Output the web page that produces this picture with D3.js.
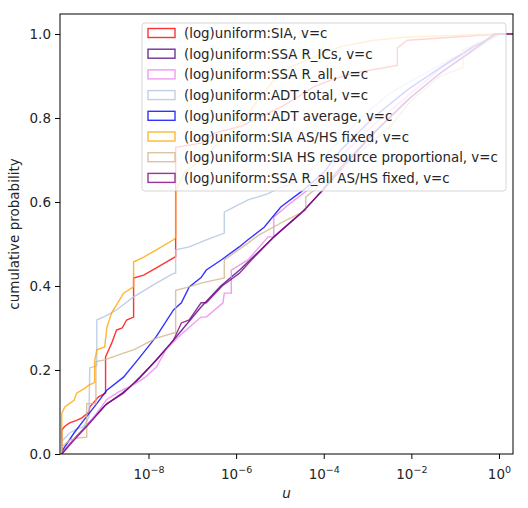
<!DOCTYPE html>
<html>
<head>
<meta charset="utf-8">
<script src="https://cdn.jsdelivr.net/npm/d3@7"></script>
<style>
  body { margin: 0; background: #fff; }
  text { font-family: "DejaVu Sans", sans-serif; }
</style>
</head>
<body>
<div id="chart"></div>
<script>
// series names, colours (legend order = draw order)
var seriesNames = ["(log)uniform:SIA, v=c", "(log)uniform:SSA R_ICs, v=c", "(log)uniform:SSA R_all, v=c",
                   "(log)uniform:ADT total, v=c", "(log)uniform:ADT average, v=c", "(log)uniform:SIA AS/HS fixed, v=c",
                   "(log)uniform:SIA HS resource proportional, v=c", "(log)uniform:SSA R_all AS/HS fixed, v=c"];
var seriesColors = ["red", "indigo", "violet", "lightsteelblue", "blue", "orange", "tan", "purple"];

// cumulative curves: [log10(u), cumulative probability]
var sia = [[-9.98,0],[-9.98,.057],[-9.91,.066],[-9.80,.074],[-9.64,.08],[-9.52,.086],[-9.36,.10],[-9.34,.112],
  [-9.14,.136],[-8.98,.145],[-8.98,.231],[-8.90,.25],[-8.84,.264],[-8.73,.295],[-8.60,.30],[-8.50,.319],[-8.34,.326],
  [-8.34,.419],[-8.11,.426],[-7.82,.443],[-7.43,.467],[-7.38,.47],[-7.38,.73],[-6.80,.74],[-6.50,.764],[-5.89,.78],
  [-5.50,.80],[-4.98,.826],[-4.59,.85],[-4.23,.874],[-3.84,.89],[-3.32,.907],[-2.32,.925],[-2.32,.967],[-2.09,.985],
  [-1.0,.993],[0,1],[0.32,1]];
var ssaRICs = [[-9.98,0],[-9.75,.03],[-9.40,.07],[-9.0,.115],[-8.6,.145],[-8.3,.17],[-7.9,.215],[-7.5,.262],[-7.2,.30],
  [-6.8,.35],[-6.35,.40],[-5.9,.44],[-5.6,.47],[-5.1,.52],[-4.5,.575],[-4.0,.63],[-3.5,.69],[-2.8,.77],[-2.0,.85],
  [-1.3,.91],[-0.6,.96],[-0.1,1],[0.32,1]];
var ssaRall = [[-9.98,0],[-9.70,.035],[-9.34,.075],[-8.95,.13],[-8.68,.148],[-8.34,.165],[-8.11,.18],[-7.82,.207],
  [-7.59,.25],[-7.25,.285],[-7.07,.302],[-6.80,.326],[-6.68,.326],[-6.30,.36],[-6.27,.383],[-6.11,.383],[-6.11,.438],
  [-5.73,.462],[-5.27,.517],[-5.14,.517],[-5.14,.564],[-4.75,.598],[-4.36,.629],[-4.0,.66],[-3.5,.72],[-2.8,.79],
  [-2.0,.86],[-1.3,.92],[-0.6,.965],[-0.1,1],[0.32,1]];
var adtTotal = [[-9.98,0],[-9.98,.03],[-9.80,.05],[-9.64,.06],[-9.48,.065],[-9.36,.088],[-9.34,.205],[-9.18,.21],
  [-9.18,.319],[-8.95,.33],[-8.73,.343],[-8.34,.374],[-7.82,.407],[-7.43,.43],[-7.38,.43],[-7.38,.486],[-7.07,.493],
  [-6.68,.51],[-6.27,.526],[-6.27,.576],[-6.05,.588],[-5.73,.605],[-5.50,.612],[-5.27,.62],[-4.98,.635],[-4.52,.65],
  [-4.07,.70],[-3.61,.748],[-3.16,.80],[-2.48,.86],[-1.80,.90],[-1.11,.94],[-0.43,.97],[0,1],[0.32,1]];
var adtAverage = [[-9.98,0],[-9.955,.01],[-9.70,.05],[-9.48,.08],[-9.18,.12],[-8.95,.152],[-8.57,.183],[-8.20,.23],
  [-7.82,.28],[-7.43,.343],[-7.25,.36],[-7.07,.398],[-6.80,.42],[-6.68,.438],[-6.34,.462],[-5.93,.493],[-5.73,.51],
  [-5.36,.54],[-4.98,.588],[-4.52,.624],[-4.0,.67],[-3.61,.724],[-2.86,.802],[-2.09,.867],[-1.34,.92],[-0.59,.97],
  [0,1],[0.32,1]];
var siaFixed = [[-9.98,0],[-9.98,.097],[-9.91,.112],[-9.70,.128],[-9.64,.145],[-9.45,.157],[-9.36,.164],[-9.23,.17],
  [-9.23,.22],[-9.18,.248],[-9.0,.255],[-8.95,.302],[-8.84,.336],[-8.66,.367],[-8.57,.383],[-8.34,.398],[-8.34,.457],
  [-8.11,.469],[-7.82,.486],[-7.43,.51],[-7.38,.515],[-7.38,.62],[-7.30,.645],[-7.18,.67],[-6.80,.70],[-6.27,.755],
  [-5.89,.788],[-5.50,.843],[-5.14,.89],[-4.75,.922],[-4.23,.945],[-3.61,.97],[-2.86,.985],[-2.09,.993],[0,1],[0.32,1]];
var siaHS = [[-9.98,0],[-9.98,.017],[-9.80,.033],[-9.64,.038],[-9.41,.04],[-9.41,.12],[-9.20,.12],[-9.20,.22],
  [-9.0,.224],[-8.57,.24],[-8.34,.248],[-7.82,.276],[-7.43,.288],[-7.38,.288],[-7.38,.39],[-7.07,.398],[-6.80,.407],
  [-6.27,.419],[-6.27,.462],[-5.73,.502],[-5.5,.52],[-4.98,.55],[-4.41,.58],[-4.41,.612],[-3.84,.66],[-3.16,.72],
  [-2.48,.78],[-2.02,.84],[-1.34,.90],[-0.82,.92],[-0.82,.962],[0,1],[0.32,1]];
var ssaRallFixed = [[-9.98,0],[-9.70,.033],[-9.34,.074],[-8.95,.12],[-8.57,.145],[-8.20,.183],[-7.82,.224],[-7.43,.271],
  [-7.25,.312],[-7.07,.319],[-6.80,.36],[-6.68,.36],[-6.32,.40],[-5.93,.43],[-5.65,.462],[-5.14,.517],[-4.45,.58],
  [-4.07,.624],[-3.61,.683],[-2.86,.764],[-2.09,.843],[-1.34,.907],[-0.59,.962],[-0.1,1],[0.32,1]];
var allSeries = [sia, ssaRICs, ssaRall, adtTotal, adtAverage, siaFixed, siaHS, ssaRallFixed];

var yTicks = [0, 0.2, 0.4, 0.6, 0.8, 1.0];
var xTickExps = [-8, -6, -4, -2, 0];

//Global settings-------------------------------
var svgScreen = { width: 528, height: 508 };
var plot = { left: 60, right: 513, top: 14, bottom: 454 };

var xScale = d3.scaleLog().domain([Math.pow(10, -10.02), Math.pow(10, 0.32)]).range([plot.left, plot.right]);
var yScale = d3.scaleLinear().domain([0, 1.0476]).range([plot.bottom, plot.top]);

var svg = d3.select("#chart").append("svg")
  .attr("width", svgScreen.width)
  .attr("height", svgScreen.height);

svg.append("defs").append("clipPath").attr("id", "clip")
  .append("rect").attr("x", plot.left).attr("y", plot.top)
  .attr("width", plot.right - plot.left).attr("height", plot.bottom - plot.top);

var line = d3.line()
  .x(function(d){ return xScale(Math.pow(10, d[0])); })
  .y(function(d){ return yScale(d[1]); });

var lines = svg.append("g").attr("clip-path", "url(#clip)");
allSeries.forEach(function(s, i){
  lines.append("path")
    .datum(s)
    .attr("fill", "none")
    .attr("stroke", seriesColors[i])
    .attr("stroke-opacity", 0.8)
    .attr("stroke-width", 1.4)
    .attr("stroke-linejoin", "miter")
    .attr("d", line);
});

// axes
var xAxis = d3.axisBottom(xScale).tickValues(xTickExps.map(function(e){ return Math.pow(10, e); }))
  .tickSize(5).tickPadding(4).tickFormat("");
var yAxis = d3.axisLeft(yScale).tickValues(yTicks).tickSize(5).tickPadding(4).tickFormat(d3.format(".1f"));

var gx = svg.append("g").attr("transform", "translate(0," + plot.bottom + ")").call(xAxis);
var gy = svg.append("g").attr("transform", "translate(" + plot.left + ",0)").call(yAxis);
[gx, gy].forEach(function(g){
  g.select(".domain").remove();
  g.selectAll(".tick line").attr("stroke", "#000").attr("stroke-width", 1);
  g.selectAll("text").attr("font-size", 13.5).attr("fill", "#262626").attr("font-family", "DejaVu Sans");
});

// log tick labels with superscripts
gx.selectAll(".tick").each(function(d, i){
  var t = d3.select(this).append("text")
    .attr("y", 25).attr("text-anchor", "middle")
    .attr("font-size", 13.5).attr("fill", "#262626");
  t.append("tspan").text("10");
  t.append("tspan").attr("dy", -6).attr("font-size", 9.5)
    .text(xTickExps[i] < 0 ? "\u2212" + Math.abs(xTickExps[i]) : String(xTickExps[i]));
});

// frame
svg.append("rect").attr("x", plot.left).attr("y", plot.top)
  .attr("width", plot.right - plot.left).attr("height", plot.bottom - plot.top)
  .attr("fill", "none").attr("stroke", "#000").attr("stroke-width", 1);

// axis labels
svg.append("text").attr("x", (plot.left + plot.right) / 2).attr("y", 498)
  .attr("text-anchor", "middle").attr("font-size", 13.5).attr("font-style", "italic").attr("fill", "#262626")
  .text("u");
svg.append("text").attr("transform", "translate(19," + ((plot.top + plot.bottom) / 2) + ") rotate(-90)")
  .attr("text-anchor", "middle").attr("font-size", 13.5).attr("fill", "#262626")
  .text("cumulative probability");

// legend
var legend = svg.append("g").attr("transform", "translate(142,23)");
legend.append("rect").attr("width", 364).attr("height", 168).attr("rx", 3)
  .attr("fill", "#fff").attr("fill-opacity", 0.8).attr("stroke", "#ccc").attr("stroke-opacity", 0.8);
var legendTexts = [];
seriesNames.forEach(function(name, i){
  var row = legend.append("g").attr("transform", "translate(0," + (10 + i * 20.7) + ")");
  row.append("rect").attr("x", 6).attr("y", -4.5).attr("width", 27).attr("height", 9)
    .attr("fill", "none").attr("stroke", seriesColors[i]).attr("stroke-opacity", 0.8).attr("stroke-width", 1.4);
  legendTexts.push(row.append("text").attr("x", 42).attr("y", 5).attr("font-size", 14).attr("fill", "#262626").text(name));
});
// fit the longest label to the width it takes in the picture (~314px)
var longest = d3.max(legendTexts, function(t){ return t.node().getComputedTextLength(); });
var fs = Math.min(14 * 314 / longest, 15);
legendTexts.forEach(function(t){ t.attr("font-size", fs); });
</script>
</body>
</html>
